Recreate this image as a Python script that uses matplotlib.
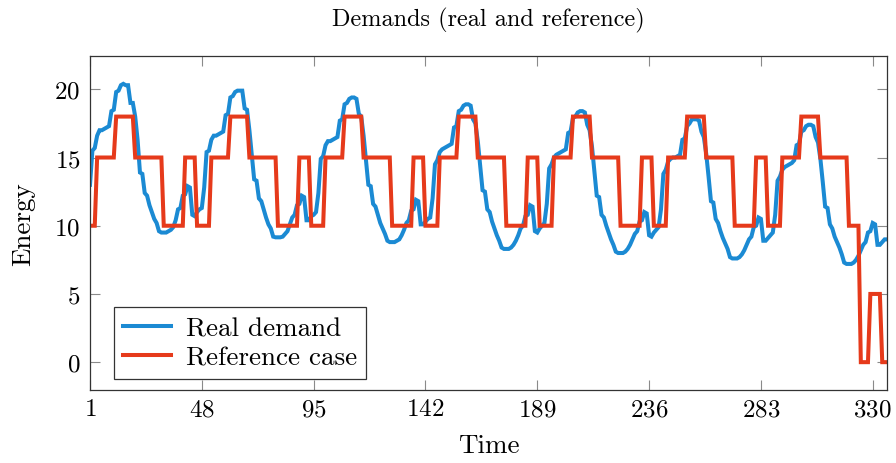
import matplotlib
matplotlib.use("Agg")
import matplotlib.pyplot as plt
import numpy as np

# ---- data ----
real_day1 = [13.0, 15.5, 15.7, 16.6, 17.0, 17.0, 17.1, 17.2, 17.3, 18.4, 18.5, 19.8, 19.9, 20.3, 20.4, 20.3,
             20.3, 19.0, 19.0, 18.0, 16.3, 13.9, 13.8, 12.4, 12.2, 11.5, 11.0, 10.5, 10.2, 9.6, 9.5, 9.5,
             9.5, 9.6, 9.7, 9.9, 10.4, 11.2, 11.3, 12.2, 12.3, 12.9, 12.8, 10.8, 10.7, 11.0, 11.2, 11.3]
real_day2 = [12.8, 15.4, 15.5, 16.3, 16.6, 16.6, 16.7, 16.8, 16.9, 18.1, 18.2, 19.4, 19.5, 19.8, 19.9, 19.9,
             19.9, 18.6, 18.5, 17.0, 15.2, 13.4, 13.3, 12.0, 11.8, 11.2, 10.6, 10.1, 9.8, 9.2, 9.15, 9.15,
             9.15, 9.2, 9.4, 9.6, 10.1, 10.6, 10.8, 11.5, 11.6, 12.2, 12.1, 10.4, 10.4, 10.7, 10.8, 11.0]
real_day3 = [12.4, 14.9, 15.1, 15.9, 16.2, 16.2, 16.3, 16.4, 16.5, 17.7, 17.8, 18.9, 19.0, 19.3, 19.4, 19.4,
             19.3, 18.2, 18.0, 16.6, 14.8, 13.0, 12.9, 11.6, 11.4, 10.8, 10.2, 9.8, 9.4, 8.9, 8.8, 8.8,
             8.8, 8.9, 9.0, 9.3, 9.7, 10.2, 10.4, 11.1, 11.2, 11.9, 11.8, 10.1, 10.1, 10.3, 10.5, 10.6]
real_day4 = [12.0, 14.5, 14.8, 15.4, 15.6, 15.7, 15.8, 15.9, 16.0, 17.2, 17.3, 18.4, 18.5, 18.8, 18.9, 18.9,
             18.8, 17.8, 17.5, 16.2, 14.4, 12.6, 12.5, 11.2, 11.0, 10.3, 9.8, 9.3, 8.9, 8.4, 8.3, 8.3,
             8.3, 8.4, 8.6, 8.9, 9.3, 9.8, 10.0, 10.7, 10.8, 11.5, 11.4, 9.6, 9.5, 9.8, 10.0, 10.2]
real_day5 = [11.6, 14.2, 14.5, 15.0, 15.2, 15.3, 15.4, 15.5, 15.6, 16.8, 16.9, 17.9, 18.0, 18.3, 18.4, 18.4,
             18.3, 17.4, 17.0, 15.8, 14.0, 12.2, 12.1, 10.8, 10.6, 10.0, 9.5, 9.0, 8.6, 8.1, 8.0, 8.0,
             8.0, 8.1, 8.3, 8.6, 9.0, 9.4, 9.6, 10.3, 10.4, 11.0, 10.9, 9.3, 9.2, 9.5, 9.7, 9.9]
real_day6 = [11.2, 13.8, 14.1, 14.7, 14.9, 15.0, 15.0, 15.1, 15.2, 16.3, 16.4, 17.3, 17.5, 17.8, 17.8, 17.8,
             17.7, 16.9, 16.5, 15.3, 13.6, 11.8, 11.7, 10.5, 10.2, 9.6, 9.1, 8.7, 8.3, 7.7, 7.6, 7.6,
             7.6, 7.7, 7.9, 8.2, 8.6, 9.0, 9.2, 9.9, 10.0, 10.6, 10.5, 8.9, 8.9, 9.1, 9.3, 9.5]
real_day7 = [10.8, 13.3, 13.6, 14.1, 14.3, 14.4, 14.5, 14.6, 14.8, 15.9, 16.0, 16.9, 17.0, 17.3, 17.4, 17.4,
             17.3, 16.5, 16.1, 14.9, 13.2, 11.4, 11.3, 10.1, 9.8, 9.2, 8.8, 8.4, 7.9, 7.3, 7.2, 7.2,
             7.2, 7.3, 7.5, 7.8, 8.2, 8.6, 8.8, 9.5, 9.6, 10.2, 10.1, 8.6, 8.6, 8.8, 9.0, 9.0]

ref_day = [10, 10, 10, 15, 15, 15, 15, 15, 15, 15, 15, 18, 18, 18, 18, 18,
           18, 18, 18, 15, 15, 15, 15, 15, 15, 15, 15, 15, 15, 15, 15, 10,
           10, 10, 10, 10, 10, 10, 10, 10, 15, 15, 15, 15, 15, 10, 10, 10]
ref_last_day = [10, 10, 10, 15, 15, 15, 15, 15, 15, 15, 15, 18, 18, 18, 18, 18,
                18, 18, 18, 15, 15, 15, 15, 15, 15, 15, 15, 15, 15, 15, 15, 10,
                10, 10, 10, 10, 0, 0, 0, 0, 5, 5, 5, 5, 5, 0, 0, 0]

xticks = [1, 48, 95, 142, 189, 236, 283, 330]
yticks = [0, 5, 10, 15, 20]

real = np.array(real_day1 + real_day2 + real_day3 + real_day4 + real_day5 + real_day6 + real_day7)
reference = np.array(ref_day * 6 + ref_last_day)
t = np.arange(1, len(real) + 1)

plt.rcParams['font.family'] = ['cmr10', 'DejaVu Serif']
plt.rcParams['axes.formatter.use_mathtext'] = True
plt.rcParams['mathtext.fontset'] = 'cm'

fig = plt.figure(figsize=(8.96, 4.64), dpi=100)
ax = fig.add_axes([90/896, 1-391/464, (887-90)/896, (391-57)/464])

ax.plot(t, real, color='#1b8ad3', lw=2.9, label='Real demand', solid_joinstyle='miter')
ax.plot(t, reference, color='#e63a1b', lw=2.9, label='Reference case', solid_joinstyle='miter')

ax.set_xlim(1, 336)
ax.set_ylim(-2.04, 22.44)
ax.set_xticks(xticks)
ax.set_yticks(yticks)
ax.tick_params(direction='in', top=True, right=True, length=7.5, width=0.8, color='#8a8a8a',
               labelsize=18)
ax.tick_params(axis='x', pad=6)
ax.tick_params(axis='y', pad=7)
for s in ax.spines.values():
    s.set_linewidth(0.9)
    s.set_color('#333333')

ax.set_title('Demands (real and reference)', fontsize=17.5, pad=22)
ax.set_xlabel('Time', fontsize=19.5, labelpad=9)
ax.set_ylabel('Energy', fontsize=19.5, labelpad=14)

leg = ax.legend(loc='lower left', bbox_to_anchor=(24/797, 11/334), fontsize=19.5, frameon=True,
                fancybox=False, edgecolor='black', handlelength=1.75, handletextpad=0.55,
                borderpad=0.35, labelspacing=0.2, borderaxespad=0)
leg.get_frame().set_linewidth(0.9)

fig.savefig('out.png', dpi=100)
